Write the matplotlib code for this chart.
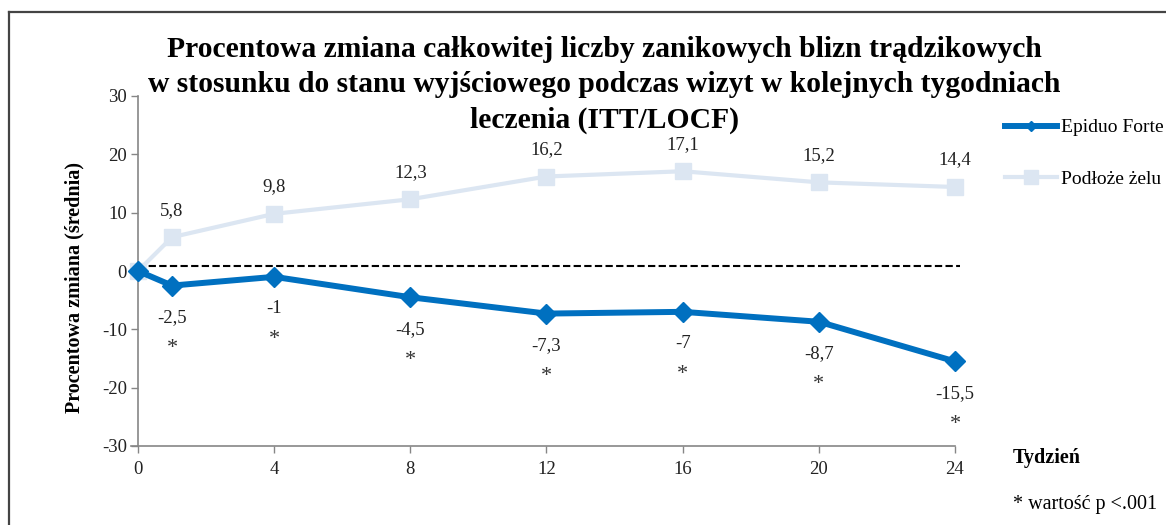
import matplotlib
matplotlib.use('Agg')
import matplotlib.pyplot as plt
from matplotlib.lines import Line2D

plt.rcParams['font.family'] = ['Liberation Serif', 'DejaVu Serif']
plt.rcParams['axes.unicode_minus'] = False

weeks = [0, 1, 4, 8, 12, 16, 20, 24]
epiduo = [0, -2.5, -1, -4.5, -7.3, -7, -8.7, -15.5]
podloze = [0, 5.8, 9.8, 12.3, 16.2, 17.1, 15.2, 14.4]
signif_weeks = [1, 4, 8, 12, 16, 20, 24]
xticks = [0, 4, 8, 12, 16, 20, 24]
yticks = [-30, -20, -10, 0, 10, 20, 30]
ref_level = 0.9

title = ('Procentowa zmiana całkowitej liczby zanikowych blizn trądzikowych\n'
         'w stosunku do stanu wyjściowego podczas wizyt w kolejnych tygodniach\n'
         'leczenia (ITT/LOCF)')

def fmt(v):
    return f'{v:g}'.replace('.', ',')

blue = '#0070C0'
light = '#DCE6F2'
gray = '#868686'
txt = '#222222'

fig = plt.figure(figsize=(11.66, 5.25), dpi=100)
ax = fig.add_axes([138/1166, 1-446/525, (955-138)/1166, 350/525])

ax.plot([0, 24.15], [ref_level, ref_level], color='black', lw=1.5,
        ls=(0, (3.5, 1.6)), clip_on=False, zorder=1)
ax.plot(weeks, podloze, color=light, lw=3.0, marker='s', ms=11.5,
        zorder=2, clip_on=False)
ax.plot(weeks, epiduo, color=blue, lw=4.3, marker='D', ms=10,
        zorder=3, clip_on=False)

for w, v in zip(weeks[1:], podloze[1:]):
    ax.annotate(fmt(v), (w, v), xytext=(0, 27), textcoords='offset pixels',
                ha='center', va='center', fontsize=13.5, color=txt)
for w, v in zip(weeks[1:], epiduo[1:]):
    ax.annotate(fmt(v), (w, v), xytext=(0, -32), textcoords='offset pixels',
                ha='center', va='center', fontsize=13.5, color=txt)
for w in signif_weeks:
    v = epiduo[weeks.index(w)]
    ax.annotate('*', (w, v), xytext=(0, -63), textcoords='offset pixels',
                ha='center', va='center', fontsize=16, color='#333333')

ax.set_xlim(0, 24)
ax.set_ylim(-30, 30)
ax.set_xticks(xticks)
ax.set_yticks(yticks)
for s in ['top', 'right']:
    ax.spines[s].set_visible(False)
for s in ['left', 'bottom']:
    ax.spines[s].set_color(gray)
    ax.spines[s].set_linewidth(1.2)
ax.spines['bottom'].set_bounds(-0.2, 24)
ax.tick_params(axis='both', colors=gray, length=5, width=1, labelsize=13.5,
               labelcolor=txt)
ax.tick_params(axis='x', pad=6)
ax.tick_params(axis='y', pad=3)

ax.set_ylabel('Procentowa zmiana (średnia)', fontsize=14.5, fontweight='bold')
ax.yaxis.set_label_coords(-0.066, 0.453)

fig.text(604/1166, 1-85/525, title, ha='center', va='center', fontsize=21.3,
         fontweight='bold', linespacing=1.38)

# legend
handles = [Line2D([], [], color=blue, lw=4.3, marker='D', ms=5),
           Line2D([], [], color=light, lw=3.0, marker='s', ms=10)]
fig.legend(handles, ['Epiduo Forte', 'Podłoże żelu'], loc='upper left',
           bbox_to_anchor=(997/1166, 1-111/525), frameon=False,
           fontsize=14, handlelength=2.7, handletextpad=0.2,
           labelspacing=1.75, borderaxespad=0)

fig.text(1013/1166, 1-458/525, 'Tydzień', fontsize=14.5, fontweight='bold',
         va='center', ha='left')
fig.text(1013/1166, 1-505/525, '* wartość p <.001', fontsize=14.5,
         va='center', ha='left')

# frame
fig.add_artist(Line2D([9/1166, 1], [1-12/525, 1-12/525], color='#444444',
                      lw=1.6, transform=fig.transFigure))
fig.add_artist(Line2D([9/1166, 9/1166], [0, 1-12/525], color='#444444',
                      lw=1.6, transform=fig.transFigure))

fig.savefig('out.png', dpi=100)
